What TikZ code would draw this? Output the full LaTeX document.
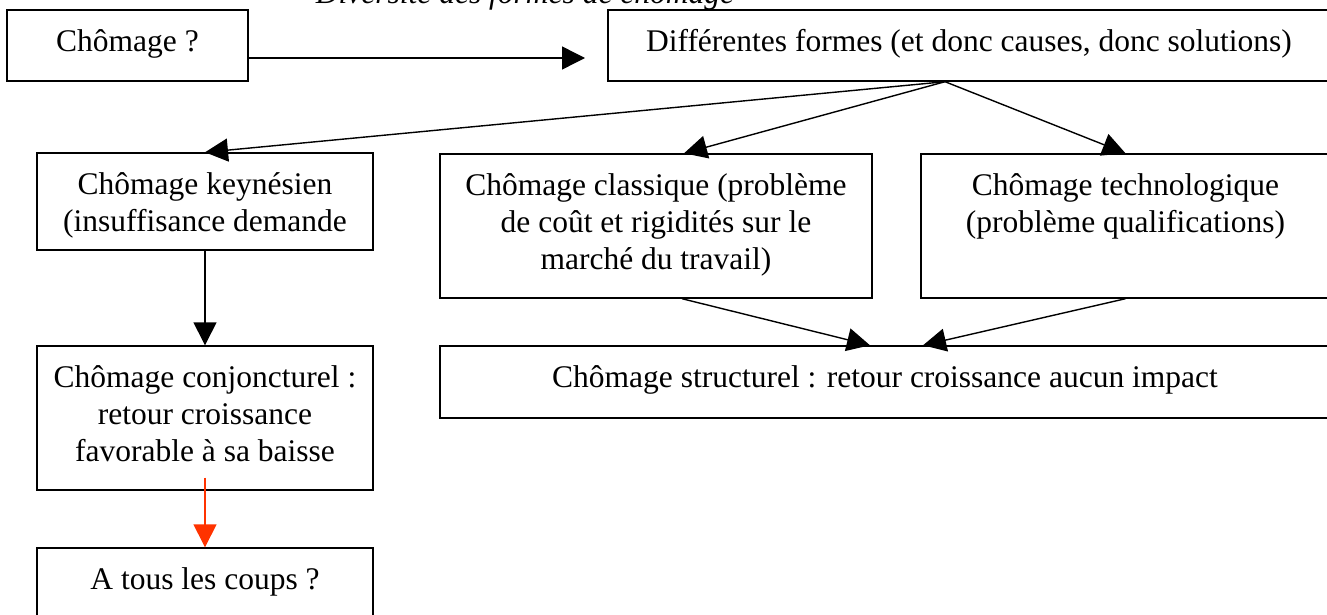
\documentclass[tikz,border=0pt]{standalone}
\usepackage{fontspec}
\setmainfont{Liberation Serif}
\usetikzlibrary{arrows.meta}
\definecolor{flecheRouge}{RGB}{255,51,0}
\newcommand{\boxtext}[3]{\parbox[c][#2][t]{#1}{\centering\rule{0pt}{20.6pt}#3}}

\begin{document}
\begin{tikzpicture}
[x=0.5pt,y=-0.5pt,
  boxDecorate/.style={draw,line width=0.7pt,inner sep=0pt,font=\fontsize{15.75}{18.5}\selectfont},%
  arrowDecorate/.style={-{Triangle[length=11.5pt,width=11.5pt]},line width=0.7pt}]
\useasboundingbox (0,0) rectangle (1327,615);
%% title (cut at the top)
\node (titre) at (525,4) [anchor=base,font=\fontsize{15.75}{18.5}\selectfont\itshape] {Diversité des formes de chômage};
%% boxes
\foreach \nodename/\x/\y/\w/\h/\txt in {
  chom/127.5/45.5/120.5pt/35.5pt/{Chômage ?},
  formes/969/45.5/361pt/35.5pt/{Différentes formes (et donc causes, donc solutions)},
  keynes/205/201.5/168pt/48.5pt/{Chômage keynésien\\(insuffisance demande},
  classique/656/226/216pt/72pt/{Chômage classique (problème\\de coût et rigidités sur le\\marché du travail)},
  techno/1125.5/226/204.5pt/72pt/{Chômage technologique\\(problème qualifications)},
  conj/205/418/168pt/72pt/{Chômage conjoncturel :\\retour croissance\\favorable à sa baisse},
  struct/885/382/445pt/36pt/{Chômage structurel : retour croissance aucun impact},
  coups/205/584/168pt/36pt/{A tous les coups ?}} {
  \node (\nodename) at (\x,\y) [boxDecorate] {\boxtext{\w}{\h}{\txt}};
}
%% arrows
\coordinate (pointeFormes) at (585,58);
\draw[arrowDecorate] ([yshift=-6.25pt]chom.east) -- (pointeFormes);
\path
\foreach \startnode/\sx/\endnode/\ex in {formes.south/-12pt/keynes.north/0pt,
  formes.south/-12pt/classique.north/14pt,
  formes.south/-12pt/techno.north/0pt,
  classique.south/13pt/struct.north/-7.5pt,
  techno.south/0pt/struct.north/19pt,
  keynes.south/0pt/conj.north/0pt} {
  ([xshift=\sx]\startnode) edge[arrowDecorate] ([xshift=\ex]\endnode)
};
\draw[arrowDecorate,flecheRouge] ([yshift=6.5pt]conj.south) -- (coups.north);
\end{tikzpicture}
\end{document}
